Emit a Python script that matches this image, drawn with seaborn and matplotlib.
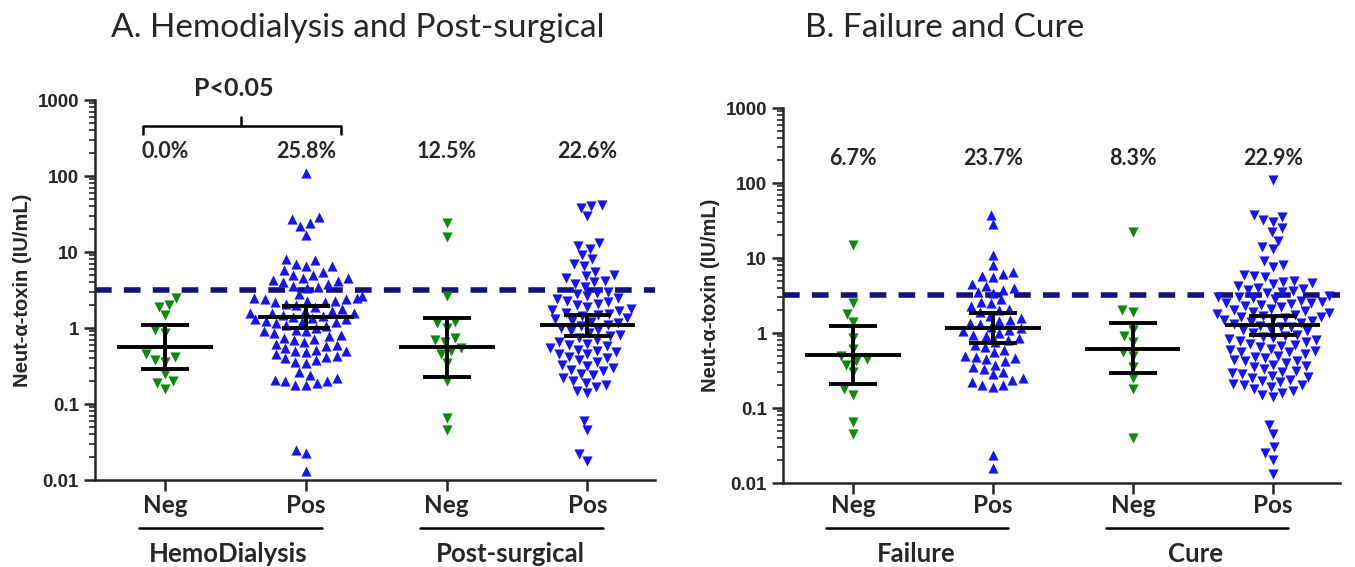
import numpy as np
import pandas as pd
import seaborn as sns
import matplotlib.pyplot as plt
import matplotlib.transforms as mtransforms
from matplotlib.ticker import LogLocator, FixedLocator, NullFormatter

# ---- data ----
panel_titles = ["A. Hemodialysis and Post-surgical", "B. Failure and Cure"]
panel_groups = [["HemoDialysis", "Post-surgical"], ["Failure", "Cure"]]
subgroups = ["Neg", "Pos"]

hemo_neg = [2.5, 2.0, 1.9, 1.5, 0.95, 0.85, 0.45, 0.42, 0.38, 0.36, 0.25, 0.2, 0.19, 0.16]
hemo_pos = [110, 29, 27, 24, 22, 17, 8, 7.8, 7, 6.5, 6.5, 5.8, 5.5, 5, 5, 4.6, 4.5, 4.3,
            4.2, 4, 3.8, 3.6, 3.5, 3.4,
            2.8, 2.6, 2.5, 2.5, 2.4, 2.4, 2.3, 2.3, 2.2, 2.2, 2.1, 2.0,
            1.9, 1.8, 1.7, 1.7, 1.6, 1.6, 1.6, 1.5, 1.45,
            1.4, 1.35, 1.3, 1.3, 1.25, 1.2, 1.2, 1.15,
            1.1, 1.05, 1.0, 0.95, 0.9, 0.9, 0.85,
            0.8, 0.78, 0.75, 0.72, 0.7, 0.65, 0.62,
            0.6, 0.58, 0.55, 0.52, 0.5, 0.5, 0.48,
            0.45, 0.43, 0.42, 0.4, 0.38, 0.36, 0.35, 0.26,
            0.24, 0.22, 0.21, 0.2, 0.2, 0.19, 0.18, 0.18,
            0.025, 0.023, 0.013]
post_neg = [24, 16, 2.6, 1.2, 1.15, 1.0, 0.75, 0.7, 0.65, 0.55, 0.5, 0.45, 0.35, 0.2,
            0.065, 0.045]
post_pos = [42, 40, 38, 30, 13, 12, 11, 9, 8, 7, 6.5, 5.5, 5, 4.8, 4.5, 4.2, 4, 3.8, 3.5,
            3.0, 2.9, 2.8, 2.6, 2.5, 2.4, 2.3, 2.2, 2.1, 2.0,
            1.9, 1.8, 1.75, 1.7, 1.6, 1.55, 1.5, 1.45,
            1.35, 1.3, 1.25, 1.2, 1.15, 1.1, 1.05, 1.0,
            0.95, 0.9, 0.85, 0.8, 0.78, 0.75, 0.7,
            0.65, 0.62, 0.6, 0.58, 0.55, 0.52, 0.5,
            0.48, 0.46, 0.45, 0.42, 0.4, 0.38, 0.36,
            0.33, 0.32, 0.3, 0.28, 0.27, 0.25, 0.24,
            0.22, 0.2, 0.19, 0.18, 0.17, 0.15, 0.14,
            0.06, 0.045, 0.022, 0.018]
fail_neg = [15, 2.5, 1.8, 1.4, 0.85, 0.62, 0.5, 0.45, 0.42, 0.38, 0.3, 0.18, 0.15, 0.065, 0.045]
fail_pos = [38, 28, 11, 8, 6.5, 6.2, 5.8, 5.5, 4.5, 4.3, 4, 3.8, 3.5, 3.4,
            2.8, 2.6, 2.5, 2.3, 2.1, 2.0,
            1.9, 1.7, 1.6, 1.5, 1.45, 1.35,
            1.3, 1.2, 1.15, 1.1, 1.05, 1.0, 0.95,
            0.9, 0.85, 0.8, 0.75, 0.7,
            0.65, 0.6, 0.55, 0.5, 0.48, 0.46,
            0.45, 0.42, 0.38, 0.35, 0.33, 0.3,
            0.28, 0.25, 0.24, 0.22, 0.2, 0.2, 0.19,
            0.024, 0.016]
cure_neg = [22, 2.0, 1.9, 1.1, 0.9, 0.75, 0.55, 0.5, 0.35, 0.25, 0.18, 0.04]
cure_pos = [110, 38, 35, 32, 30, 25, 22, 17, 14, 13, 9, 8, 7.5, 6, 5.8, 5.5, 5, 4.8, 4.6,
            4.5, 4.2, 4, 3.9, 3.8, 3.6, 3.5, 3.4,
            3.1, 3.05, 3.0, 2.9, 2.8, 2.7, 2.6, 2.5, 2.5, 2.45, 2.4, 2.3, 2.2, 2.1, 2.0,
            1.95, 1.9, 1.85, 1.8, 1.75, 1.7, 1.65, 1.62, 1.6, 1.55, 1.5,
            1.45, 1.4, 1.35, 1.3, 1.25, 1.22, 1.2, 1.15, 1.1, 1.05, 1.0,
            0.95, 0.9, 0.88, 0.85, 0.82, 0.8, 0.78, 0.75, 0.72, 0.7,
            0.68, 0.65, 0.62, 0.6, 0.58, 0.56, 0.55, 0.52, 0.5,
            0.48, 0.46, 0.44, 0.43, 0.42, 0.4, 0.38, 0.36,
            0.35, 0.33, 0.31, 0.3, 0.29, 0.28, 0.27, 0.26, 0.25,
            0.24, 0.23, 0.22, 0.21, 0.2, 0.2, 0.19, 0.18,
            0.17, 0.16, 0.15, 0.14,
            0.06, 0.045, 0.03, 0.025, 0.02, 0.013]

panel_values = [[hemo_neg, hemo_pos, post_neg, post_pos],
                [fail_neg, fail_pos, cure_neg, cure_pos]]
panel_markers = [["v", "^", "v", "v"], ["v", "^", "v", "v"]]
panel_pct = [["0.0%", "25.8%", "12.5%", "22.6%"], ["6.7%", "23.7%", "8.3%", "22.9%"]]

# central line and interval bars
panel_center = [[0.56, 1.4, 0.56, 1.1], [0.51, 1.16, 0.61, 1.27]]
panel_low = [[0.29, 1.0, 0.23, 0.78], [0.21, 0.74, 0.29, 0.94]]
panel_high = [[1.1, 1.95, 1.35, 1.5], [1.24, 1.84, 1.35, 1.68]]

cutoff = 3.2
green = "#0b8a0b"
blue = "#1414f5"
navy = "#12127a"

sns.set_style("ticks")
plt.rcParams["font.family"] = ["Liberation Sans", "DejaVu Sans"]
calibri = ["Lato", "DejaVu Sans"]

fig = plt.figure(figsize=(13.55, 5.67), dpi=100)
axes = [fig.add_axes([0.0701, 0.1534, 0.4133, 0.6702]),
        fig.add_axes([0.5779, 0.1481, 0.4110, 0.6614])]
title_x = [0.264, 0.697]

for p, ax in enumerate(axes):
    groups = panel_groups[p]
    cats = [f"{g} {s}" for g in groups for s in subgroups]
    vals = panel_values[p]
    df = pd.DataFrame({"cat": np.repeat(cats, [len(v) for v in vals]),
                       "value": np.concatenate(vals)})
    ax.set_yscale("log")
    for i, cat in enumerate(cats):
        sns.swarmplot(data=df[df["cat"] == cat], x="cat", y="value", order=cats,
                      marker=panel_markers[p][i], color=green if i % 2 == 0 else blue,
                      size=7.3, linewidth=0, ax=ax, zorder=2)

    x = np.arange(len(cats))
    ax.axhline(cutoff, color=navy, lw=4, dashes=(3, 2.2), zorder=1)
    ax.hlines(panel_center[p], x - 0.34, x + 0.34, color="black", lw=2.8, zorder=3)
    ax.hlines(panel_low[p], x - 0.17, x + 0.17, color="black", lw=2.8, zorder=3)
    ax.hlines(panel_high[p], x - 0.17, x + 0.17, color="black", lw=2.8, zorder=3)
    ax.vlines(x, panel_low[p], panel_high[p], color="black", lw=2.8, zorder=3)

    for i, lab in enumerate(panel_pct[p]):
        ax.text(x[i], 210, lab, ha="center", va="center", fontsize=15.5,
                fontweight="bold", family=calibri)

    ax.set_xlim(-0.5, 3.48)
    ax.set_ylim(0.01, 1000)
    ax.yaxis.set_major_locator(FixedLocator([0.01, 0.1, 1, 10, 100, 1000]))
    ax.set_yticklabels(["0.01", "0.1", "1", "10", "100", "1000"],
                       fontsize=13.5, fontweight="bold")
    ax.yaxis.set_minor_locator(LogLocator(base=10, subs=np.arange(2, 10)))
    ax.yaxis.set_minor_formatter(NullFormatter())
    ax.set_xticks(x)
    ax.set_xticklabels(subgroups * 2, fontsize=17.5, fontweight="bold", family=calibri)
    ax.tick_params(axis="both", which="major", direction="out", length=8, width=1.8)
    ax.tick_params(axis="y", which="minor", direction="out", length=4, width=1.2)
    ax.tick_params(axis="x", pad=2 if p == 0 else 0)
    ax.set_xlabel("")
    ax.set_ylabel("Neut-α-toxin (IU/mL)", fontsize=14.5, fontweight="bold", labelpad=4)
    sns.despine(ax=ax)
    for side in ["left", "bottom"]:
        ax.spines[side].set_linewidth(1.8)

    # group underlines and names below the tick labels
    trans = mtransforms.blended_transform_factory(ax.transData, fig.transFigure)
    for g, name in enumerate(groups):
        a, b = x[2 * g], x[2 * g + 1]
        ax.plot([a - 0.19, b + 0.11], [0.069, 0.069], color="black", lw=1.8,
                transform=trans, clip_on=False)
        ax.text((a + b) / 2 - 0.05, 0.009, name, ha="center", va="baseline", fontsize=18.5,
                fontweight="bold", family=calibri, transform=trans)

    fig.text(title_x[p], 0.951, panel_titles[p], ha="center", va="center",
             fontsize=24, family=calibri)

# significance bracket on panel A
axA = axes[0]
br_left, br_right, br_mid = -0.16, 1.25, 0.54
axA.plot([br_left, br_left, br_right, br_right], [355, 460, 460, 355],
         color="black", lw=1.8, clip_on=False)
axA.plot([br_mid, br_mid], [460, 600], color="black", lw=1.8, clip_on=False)
axA.text(br_mid - 0.05, 1400, "P<0.05", ha="center", va="center", fontsize=18,
         fontweight="bold", family=calibri, clip_on=False)

fig.savefig("out.png", dpi=100)
